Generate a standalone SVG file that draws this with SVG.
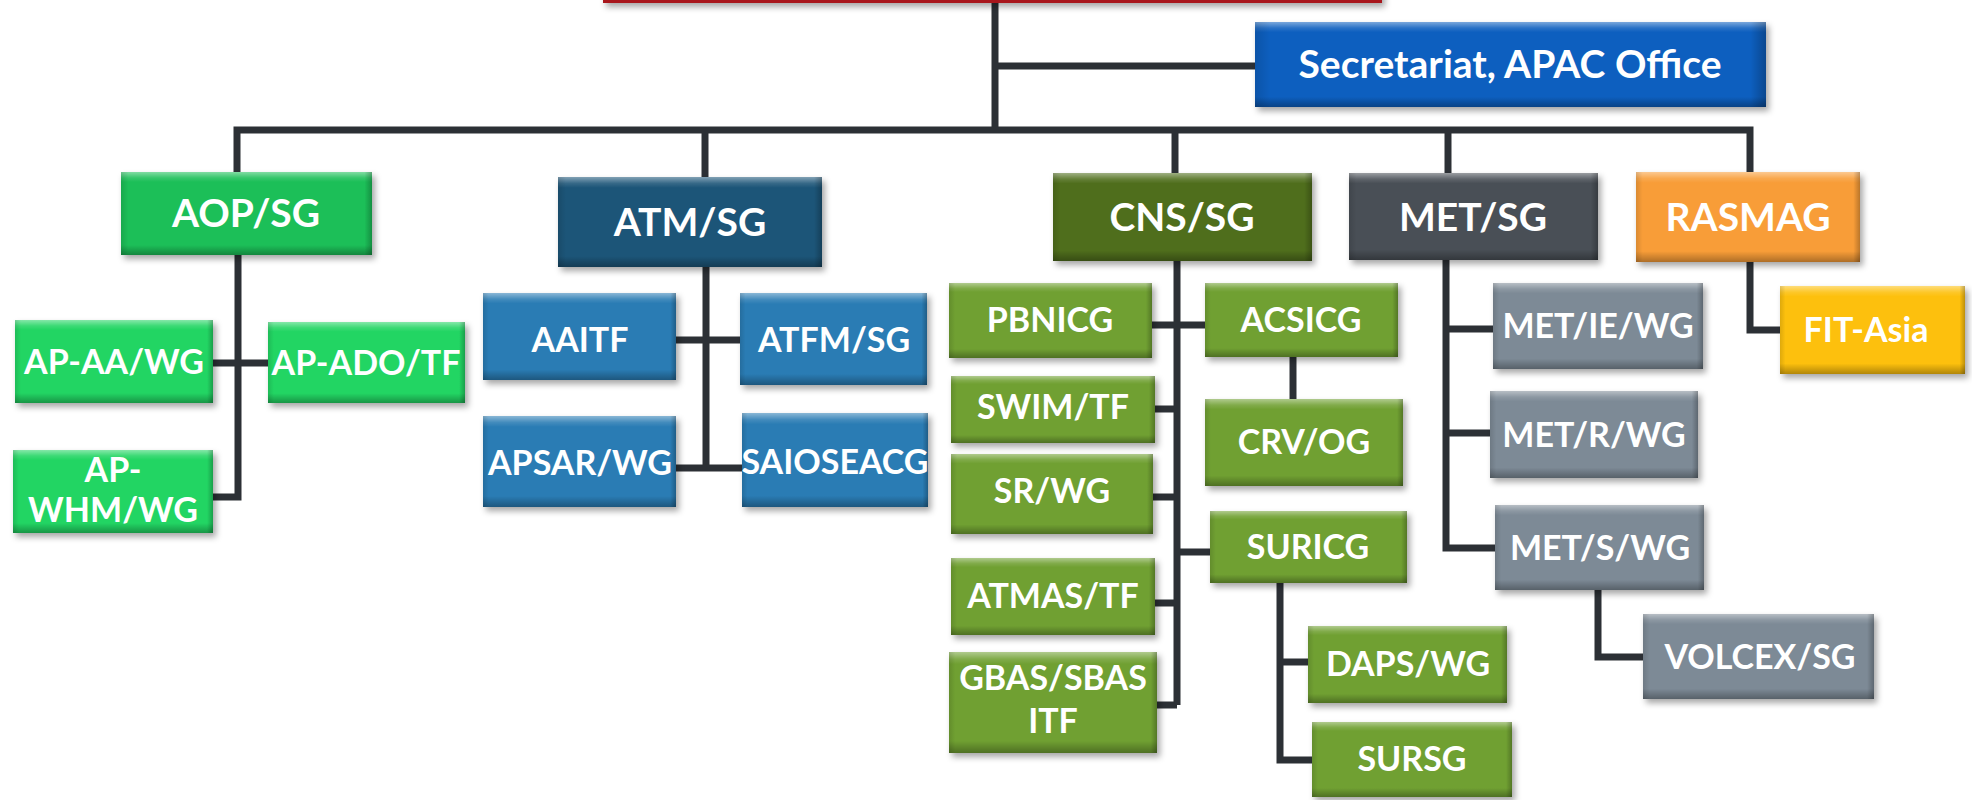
<svg xmlns="http://www.w3.org/2000/svg" width="1972" height="800" viewBox="0 0 1972 800">
<defs>
<style>
text{font-family:Lato,"Liberation Sans",sans-serif;font-weight:bold;fill:#ffffff;text-anchor:middle}
.t1{font-size:39px}
.t2{font-size:34px}
.ln{fill:none;stroke:#2c3035;stroke-width:7;stroke-linejoin:miter;stroke-linecap:butt}
.sh{filter:url(#shadow)}
.bv{fill:url(#bevV)}
.bh{fill:url(#bevH)}
.sec{fill:#0d5fbf}
.aop{fill:#1dbf58}
.aopc{fill:#21d564}
.atm{fill:#1d5578}
.atmc{fill:#2b7bb4}
.cns{fill:#4f6e1f}
.cnsc{fill:#70a032}
.met{fill:#4a4f56}
.metc{fill:#7d8a96}
.ras{fill:#f89d38}
.fit{fill:#fdc00f}
</style>
<filter id="shadow" x="-10%" y="-10%" width="130%" height="140%">
<feDropShadow dx="3" dy="4" stdDeviation="3" flood-color="#000" flood-opacity="0.35"/>
</filter>
<linearGradient id="bevV" x1="0" y1="0" x2="0" y2="1">
<stop offset="0" stop-color="#fff" stop-opacity="0.45"/>
<stop offset="0.07" stop-color="#fff" stop-opacity="0.12"/>
<stop offset="0.12" stop-color="#fff" stop-opacity="0"/>
<stop offset="0.88" stop-color="#000" stop-opacity="0"/>
<stop offset="1" stop-color="#000" stop-opacity="0.3"/>
</linearGradient>
<linearGradient id="bevH" x1="0" y1="0" x2="1" y2="0">
<stop offset="0" stop-color="#000" stop-opacity="0.12"/>
<stop offset="0.03" stop-color="#000" stop-opacity="0"/>
<stop offset="0.97" stop-color="#000" stop-opacity="0"/>
<stop offset="1" stop-color="#000" stop-opacity="0.25"/>
</linearGradient>
</defs>
<rect x="0" y="0" width="1972" height="800" fill="#ffffff"/>

<g id="connectors">
<path class="ln" d="M995,0 V130"/>
<path class="ln" d="M995,66 H1255"/>
<path class="ln" d="M237,172 V130 H1750 V172"/>
<path class="ln" d="M705,130 V177"/>
<path class="ln" d="M1175,130 V173"/>
<path class="ln" d="M1448,130 V173"/>
<path class="ln" d="M238,255 V497 H213"/>
<path class="ln" d="M213,363 H268"/>
<path class="ln" d="M706,267 V468"/>
<path class="ln" d="M676,340 H740"/>
<path class="ln" d="M676,468 H742"/>
<path class="ln" d="M1177,261 V705"/>
<path class="ln" d="M1152,325 H1205"/>
<path class="ln" d="M1155,409 H1177"/>
<path class="ln" d="M1153,497 H1177"/>
<path class="ln" d="M1177,552 H1210"/>
<path class="ln" d="M1155,603 H1177"/>
<path class="ln" d="M1157,705 H1177"/>
<path class="ln" d="M1293,357 V399"/>
<path class="ln" d="M1280,583 V760 H1312"/>
<path class="ln" d="M1280,662 H1308"/>
<path class="ln" d="M1446,260 V548 H1495"/>
<path class="ln" d="M1446,329 H1493"/>
<path class="ln" d="M1446,433 H1490"/>
<path class="ln" d="M1598,590 V657 H1643"/>
<path class="ln" d="M1750,262 V330 H1780"/>
</g>

<g id="top-box">
<rect class="sh" x="603" y="-60" width="779" height="63" fill="#a8141c"/>
</g>

<g id="secretariat">
<rect class="sec sh" x="1255" y="22" width="511" height="85"/>
<rect class="bv" x="1255" y="22" width="511" height="85"/>
<rect class="bh" x="1255" y="22" width="511" height="85"/>
<text class="t1" x="1510" y="78">Secretariat, APAC Office</text>
</g>

<g id="aop-sg">
<rect class="aop sh" x="121" y="172" width="251" height="83"/>
<rect class="bv" x="121" y="172" width="251" height="83"/>
<rect class="bh" x="121" y="172" width="251" height="83"/>
<text class="t1" x="246" y="227">AOP/SG</text>
</g>
<g id="atm-sg">
<rect class="atm sh" x="558" y="177" width="264" height="90"/>
<rect class="bv" x="558" y="177" width="264" height="90"/>
<rect class="bh" x="558" y="177" width="264" height="90"/>
<text class="t1" x="690" y="236">ATM/SG</text>
</g>
<g id="cns-sg">
<rect class="cns sh" x="1053" y="173" width="259" height="88"/>
<rect class="bv" x="1053" y="173" width="259" height="88"/>
<rect class="bh" x="1053" y="173" width="259" height="88"/>
<text class="t1" x="1182" y="231">CNS/SG</text>
</g>
<g id="met-sg">
<rect class="met sh" x="1349" y="173" width="249" height="87"/>
<rect class="bv" x="1349" y="173" width="249" height="87"/>
<rect class="bh" x="1349" y="173" width="249" height="87"/>
<text class="t1" x="1473" y="231">MET/SG</text>
</g>
<g id="rasmag">
<rect class="ras sh" x="1636" y="172" width="224" height="90"/>
<rect class="bv" x="1636" y="172" width="224" height="90"/>
<rect class="bh" x="1636" y="172" width="224" height="90"/>
<text class="t1" x="1748" y="231">RASMAG</text>
</g>

<g id="ap-aa-wg">
<rect class="aopc sh" x="15" y="320" width="198" height="83"/>
<rect class="bv" x="15" y="320" width="198" height="83"/>
<rect class="bh" x="15" y="320" width="198" height="83"/>
<text class="t2" x="114" y="374">AP-AA/WG</text>
</g>
<g id="ap-ado-tf">
<rect class="aopc sh" x="268" y="322" width="197" height="81"/>
<rect class="bv" x="268" y="322" width="197" height="81"/>
<rect class="bh" x="268" y="322" width="197" height="81"/>
<text class="t2" x="366" y="375">AP-ADO/TF</text>
</g>
<g id="ap-whm-wg">
<rect class="aopc sh" x="13" y="450" width="200" height="83"/>
<rect class="bv" x="13" y="450" width="200" height="83"/>
<rect class="bh" x="13" y="450" width="200" height="83"/>
<text class="t2" x="113" y="482">AP-</text>
<text class="t2" x="113" y="522">WHM/WG</text>
</g>

<g id="aaitf">
<rect class="atmc sh" x="483" y="293" width="193" height="87"/>
<rect class="bv" x="483" y="293" width="193" height="87"/>
<rect class="bh" x="483" y="293" width="193" height="87"/>
<text class="t2" x="580" y="352">AAITF</text>
</g>
<g id="atfm-sg">
<rect class="atmc sh" x="740" y="293" width="187" height="92"/>
<rect class="bv" x="740" y="293" width="187" height="92"/>
<rect class="bh" x="740" y="293" width="187" height="92"/>
<text class="t2" x="834" y="352">ATFM/SG</text>
</g>
<g id="apsar-wg">
<rect class="atmc sh" x="483" y="416" width="193" height="91"/>
<rect class="bv" x="483" y="416" width="193" height="91"/>
<rect class="bh" x="483" y="416" width="193" height="91"/>
<text class="t2" x="580" y="475">APSAR/WG</text>
</g>
<g id="saioseacg">
<rect class="atmc sh" x="742" y="413" width="186" height="94"/>
<rect class="bv" x="742" y="413" width="186" height="94"/>
<rect class="bh" x="742" y="413" width="186" height="94"/>
<text class="t2" x="835" y="474">SAIOSEACG</text>
</g>

<g id="pbnicg">
<rect class="cnsc sh" x="949" y="283" width="203" height="75"/>
<rect class="bv" x="949" y="283" width="203" height="75"/>
<rect class="bh" x="949" y="283" width="203" height="75"/>
<text class="t2" x="1050" y="332">PBNICG</text>
</g>
<g id="acsicg">
<rect class="cnsc sh" x="1205" y="283" width="193" height="74"/>
<rect class="bv" x="1205" y="283" width="193" height="74"/>
<rect class="bh" x="1205" y="283" width="193" height="74"/>
<text class="t2" x="1301" y="332">ACSICG</text>
</g>
<g id="swim-tf">
<rect class="cnsc sh" x="951" y="376" width="204" height="67"/>
<rect class="bv" x="951" y="376" width="204" height="67"/>
<rect class="bh" x="951" y="376" width="204" height="67"/>
<text class="t2" x="1053" y="419">SWIM/TF</text>
</g>
<g id="crv-og">
<rect class="cnsc sh" x="1205" y="399" width="198" height="87"/>
<rect class="bv" x="1205" y="399" width="198" height="87"/>
<rect class="bh" x="1205" y="399" width="198" height="87"/>
<text class="t2" x="1304" y="454">CRV/OG</text>
</g>
<g id="sr-wg">
<rect class="cnsc sh" x="951" y="454" width="202" height="80"/>
<rect class="bv" x="951" y="454" width="202" height="80"/>
<rect class="bh" x="951" y="454" width="202" height="80"/>
<text class="t2" x="1052" y="503">SR/WG</text>
</g>
<g id="suricg">
<rect class="cnsc sh" x="1210" y="511" width="197" height="72"/>
<rect class="bv" x="1210" y="511" width="197" height="72"/>
<rect class="bh" x="1210" y="511" width="197" height="72"/>
<text class="t2" x="1308" y="559">SURICG</text>
</g>
<g id="atmas-tf">
<rect class="cnsc sh" x="951" y="558" width="204" height="77"/>
<rect class="bv" x="951" y="558" width="204" height="77"/>
<rect class="bh" x="951" y="558" width="204" height="77"/>
<text class="t2" x="1053" y="608">ATMAS/TF</text>
</g>
<g id="gbas-sbas-itf">
<rect class="cnsc sh" x="949" y="652" width="208" height="101"/>
<rect class="bv" x="949" y="652" width="208" height="101"/>
<rect class="bh" x="949" y="652" width="208" height="101"/>
<text class="t2" x="1053" y="690">GBAS/SBAS</text>
<text class="t2" x="1053" y="733">ITF</text>
</g>
<g id="daps-wg">
<rect class="cnsc sh" x="1308" y="626" width="199" height="77"/>
<rect class="bv" x="1308" y="626" width="199" height="77"/>
<rect class="bh" x="1308" y="626" width="199" height="77"/>
<text class="t2" x="1408" y="676">DAPS/WG</text>
</g>
<g id="sursg">
<rect class="cnsc sh" x="1312" y="722" width="200" height="75"/>
<rect class="bv" x="1312" y="722" width="200" height="75"/>
<rect class="bh" x="1312" y="722" width="200" height="75"/>
<text class="t2" x="1412" y="771">SURSG</text>
</g>

<g id="met-ie-wg">
<rect class="metc sh" x="1493" y="283" width="210" height="86"/>
<rect class="bv" x="1493" y="283" width="210" height="86"/>
<rect class="bh" x="1493" y="283" width="210" height="86"/>
<text class="t2" x="1598" y="338">MET/IE/WG</text>
</g>
<g id="met-r-wg">
<rect class="metc sh" x="1490" y="391" width="208" height="87"/>
<rect class="bv" x="1490" y="391" width="208" height="87"/>
<rect class="bh" x="1490" y="391" width="208" height="87"/>
<text class="t2" x="1594" y="447">MET/R/WG</text>
</g>
<g id="met-s-wg">
<rect class="metc sh" x="1495" y="505" width="209" height="85"/>
<rect class="bv" x="1495" y="505" width="209" height="85"/>
<rect class="bh" x="1495" y="505" width="209" height="85"/>
<text class="t2" x="1600" y="560">MET/S/WG</text>
</g>
<g id="volcex-sg">
<rect class="metc sh" x="1643" y="614" width="231" height="85"/>
<rect class="bv" x="1643" y="614" width="231" height="85"/>
<rect class="bh" x="1643" y="614" width="231" height="85"/>
<text class="t2" x="1760" y="669">VOLCEX/SG</text>
</g>
<g id="fit-asia">
<rect class="fit sh" x="1780" y="286" width="185" height="88"/>
<rect class="bv" x="1780" y="286" width="185" height="88"/>
<rect class="bh" x="1780" y="286" width="185" height="88"/>
<text class="t2" x="1866" y="342">FIT-Asia</text>
</g>
</svg>
